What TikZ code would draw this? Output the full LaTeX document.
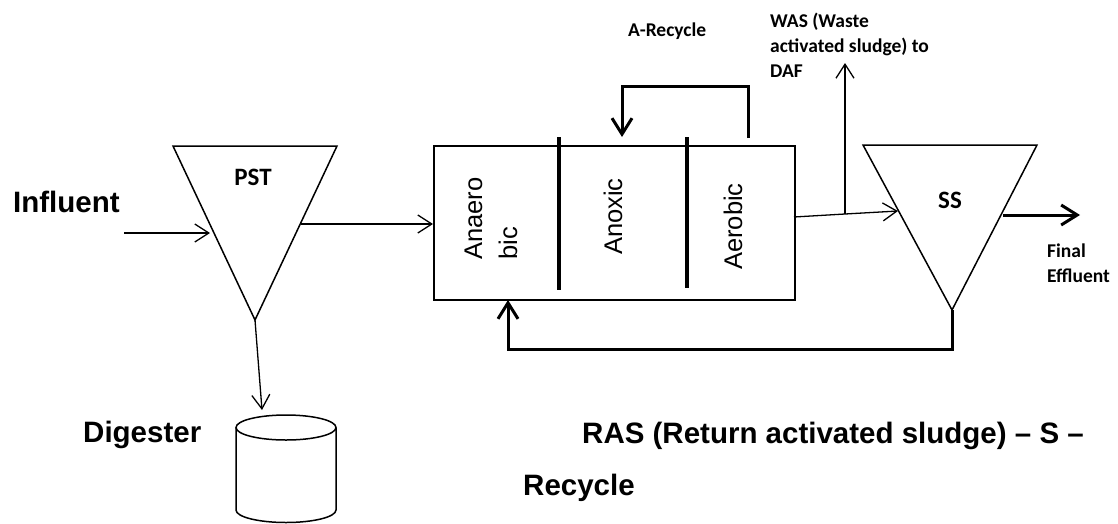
\documentclass[tikz,border=0pt]{standalone}
\usepackage{fontspec}
\usetikzlibrary{arrows.meta,calc}
\newfontfamily\arialfont{Liberation Sans}
\newfontfamily\calibrifont{Carlito}

\tikzset{
  tank/.style={line width=1.5pt, line join=miter},
  flow/.style={line width=1.3pt, -{Straight Barb[length=14pt,width=18pt]}},
  heavyflow/.style={line width=3pt, -{Straight Barb[length=16pt,width=20pt]}},
  divider/.style={line width=3.2pt},
  bigtext/.style={inner sep=0pt, font=\arialfont\bfseries\fontsize{29.5}{35}\selectfont},
  smalltext/.style={inner sep=0pt, font=\calibrifont\bfseries\fontsize{19.5}{25}\selectfont},
  tanktext/.style={inner sep=0pt, font=\calibrifont\bfseries\fontsize{25}{30}\selectfont},
  zonetext/.style={inner sep=0pt, rotate=90, align=left, anchor=base west,
                   font=\arialfont\fontsize{25.5}{35}\selectfont},
}

\begin{document}
\begin{tikzpicture}[x=1pt, y=-1pt]
  \useasboundingbox (0,0) rectangle (1118,523);

  % primary settling tank
  \coordinate (pstTL) at (173,146);
  \coordinate (pstTR) at (337,146);
  \coordinate (pstB)  at (255,320);
  \draw[tank] (pstTL) -- (pstTR) -- (pstB) -- cycle;
  \node[tanktext, anchor=base] (pst) at (253,185) {PST};

  % secondary settling tank
  \coordinate (ssTL) at (863,145);
  \coordinate (ssTR) at (1037,145);
  \coordinate (ssB)  at (952,310);
  \draw[tank] (ssTL) -- (ssTR) -- (ssB) -- cycle;
  \node[tanktext, anchor=base] (ss) at (950,208) {SS};

  % biological reactor with three zones
  \node[draw, line width=1.5pt, minimum width=361pt, minimum height=154pt,
        inner sep=0pt, anchor=north west] (reactor) at (433,145) {};
  \draw[divider] (559,137) -- (559,290);
  \draw[divider] (687,137) -- (687,288);
  % multi-line nodes sit on the baseline of their last line
  \node[zonetext] (anaerobic) at (517,260) {Anaero\\bic};
  \node[zonetext] (anoxic) at (622,255) {Anoxic};
  \node[zonetext] (aerobic) at (742,270) {Aerobic};

  % digester
  \draw[tank] (286,427.5) ellipse [x radius=50, y radius=12.5];
  \draw[tank] (236,427.5) -- (236,510)
        arc[start angle=180, end angle=0, x radius=50, y radius=12.5] -- (336,427.5);
  \coordinate (digTop) at (262,410);

  % labels
  \node[bigtext, anchor=base west] (influent) at (13,212) {Influent};
  \node[bigtext, anchor=base west] (digester) at (83,442) {Digester};
  \node[bigtext, anchor=base west] (ras) at (582,443) {RAS (Return activated sludge) – S –};
  \node[bigtext, anchor=base west] (rasrec) at (523,495) {Recycle};
  \node[smalltext, anchor=base west] (arec) at (628,36) {A-Recycle};
  \node[smalltext, anchor=base west, align=left] (was) at (770,77)
       {WAS (Waste\\activated sludge) to\\DAF};
  \node[smalltext, anchor=base west, align=left] (final) at (1047,282)
       {Final\\Effluent};

  % flow connections
  \coordinate (inStart) at (124,233);
  \coordinate (pstIn) at (210,233);
  \draw[flow] (inStart) -- (pstIn);

  \coordinate (pstOut) at (301,224);
  \draw[flow] (pstOut) -- (pstOut -| reactor.west);

  \draw[flow] (pstB) -- (digTop);

  \coordinate (arStart) at (748,138);
  \coordinate (arEnd) at (622,137);
  \draw[heavyflow] (arStart) -- ++(0,-52) -| (arEnd);

  \coordinate (aerOut) at (794,217);
  \coordinate (wasJoin) at (845,214);
  \coordinate (ssIn) at (898,211);
  \coordinate (wasTip) at (845,63);
  \draw[flow] (aerOut) -- (wasJoin) -- (ssIn);
  \draw[flow] (wasJoin) -- (wasTip);

  \coordinate (ssOut) at (1003,215);
  \coordinate (effTip) at (1080,215);
  \draw[heavyflow] (ssOut) -- (effTip);

  \coordinate (rasLow) at (952,349);
  \coordinate (rasTip) at (508,300);
  \draw[heavyflow] (ssB) -- (rasLow) -| (rasTip);
\end{tikzpicture}
\end{document}
